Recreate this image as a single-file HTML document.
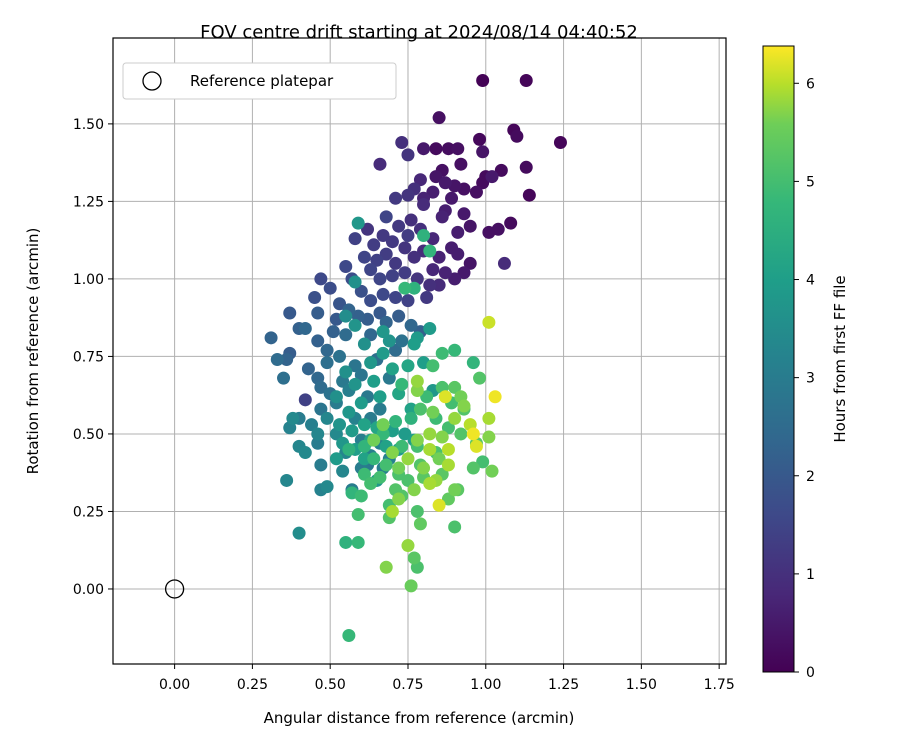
<!DOCTYPE html>
<html><head><meta charset="utf-8"><style>
html,body{margin:0;padding:0;background:#fff}
svg text{font-family:"DejaVu Sans","Liberation Sans",sans-serif;fill:#000}
</style></head><body>
<svg id="chart" width="900" height="750" xmlns="http://www.w3.org/2000/svg">
<defs><linearGradient id="vir" x1="0" y1="1" x2="0" y2="0">
<stop offset="0" stop-color="#440154"/><stop offset="0.125" stop-color="#482878"/><stop offset="0.25" stop-color="#3e4989"/><stop offset="0.375" stop-color="#31688e"/><stop offset="0.5" stop-color="#26828e"/><stop offset="0.625" stop-color="#1f9e89"/><stop offset="0.75" stop-color="#35b779"/><stop offset="0.875" stop-color="#6ece58"/><stop offset="0.9375" stop-color="#b5de2b"/><stop offset="1" stop-color="#fde725"/></linearGradient></defs>
<text x="419" y="38" font-size="18" text-anchor="middle">FOV centre drift starting at 2024/08/14 04:40:52</text>
<g id="grid"></g>
<g id="pts"></g>
<rect x="113" y="38" width="613" height="626" fill="none" stroke="#000" stroke-width="1.2"/>
<g id="ticks"></g>
<text x="419" y="723" font-size="15" text-anchor="middle">Angular distance from reference (arcmin)</text>
<text transform="translate(38,351) rotate(-90)" font-size="15" text-anchor="middle">Rotation from reference (arcmin)</text>
<g>
<rect x="123" y="63" width="273" height="36" rx="3" fill="#fff" stroke="#ccc"/>
<circle cx="152" cy="81" r="9" fill="none" stroke="#000" stroke-width="1.3"/>
<text x="190" y="86" font-size="15">Reference platepar</text>
</g>
<rect x="763" y="46" width="31" height="626" fill="url(#vir)" stroke="#000" stroke-width="1"/>
<g id="cbticks"></g>
<text transform="translate(845,359) rotate(-90)" font-size="15" text-anchor="middle">Hours from first FF file</text>
</svg>
<script>
const xTicks=["0.00","0.25","0.50","0.75","1.00","1.25","1.50","1.75"];
const yTicks=["0.00","0.25","0.50","0.75","1.00","1.25","1.50"];
const cbTicks=[0,1,2,3,4,5,6];
const refPoint=[0,0];
const points=[
[0.99,1.64,0.05],[1.13,1.64,0.1],[0.85,1.52,0.3],[0.84,1.42,0.2],[0.98,1.45,0.15],[1.09,1.48,0.1],[1.10,1.46,0.2],[0.91,1.42,0.3],[0.88,1.42,0.25],[0.80,1.42,0.5],[1.24,1.44,0.1],[0.99,1.41,0.4],[1.13,1.36,0.2],[0.92,1.37,0.3],[1.00,1.33,0.2],[0.84,1.33,0.4],[0.86,1.35,0.3],[0.87,1.31,0.5],[0.90,1.30,0.4],[0.93,1.29,0.3],[0.99,1.31,0.2],[1.02,1.33,0.5],[1.05,1.35,0.2],[1.14,1.27,0.1],[0.83,1.28,0.6],[0.89,1.26,0.5],[0.97,1.28,0.3],[0.80,1.26,0.7],[0.87,1.22,0.6],[0.93,1.21,0.5],[1.08,1.18,0.2],[1.04,1.16,0.3],[0.95,1.17,0.4],[0.91,1.15,0.6],[1.01,1.15,0.3],[0.86,1.20,0.7],[0.83,1.13,0.8],[0.89,1.10,0.6],[0.95,1.05,0.4],[0.93,1.02,0.5],[0.85,1.07,0.7],[0.91,1.08,0.6],[1.06,1.05,0.9],[0.83,1.03,0.8],[0.87,1.02,0.7],[0.80,1.09,0.9],[0.90,1.00,0.6],
[0.73,1.44,1.0],[0.75,1.40,1.1],[0.66,1.37,0.9],[0.77,1.29,1.0],[0.79,1.32,0.8],[0.71,1.26,1.2],[0.75,1.27,1.1],[0.80,1.24,0.9],[0.76,1.19,1.0],[0.72,1.17,1.2],[0.68,1.20,1.5],[0.79,1.16,1.0],[0.75,1.14,1.3],[0.67,1.14,1.2],[0.62,1.16,1.1],[0.58,1.13,1.4],[0.64,1.11,1.3],[0.70,1.12,1.2],[0.74,1.10,1.1],[0.65,1.06,1.4],[0.68,1.08,1.3],[0.61,1.07,1.5],[0.71,1.05,1.2],[0.77,1.07,1.0],[0.55,1.04,1.6],[0.63,1.03,1.5],[0.70,1.01,1.4],[0.74,1.02,1.3],[0.78,1.00,1.1],[0.82,0.98,1.0],[0.57,1.00,1.7],[0.47,1.00,1.6],[0.50,0.97,1.7],[0.66,1.00,1.5],[0.85,0.98,0.9],[0.60,0.96,1.8],[0.63,0.93,1.7],[0.67,0.95,1.6],[0.71,0.94,1.5],[0.75,0.93,1.4],[0.81,0.94,1.2],[0.45,0.94,1.8],[0.53,0.92,1.9],
[0.31,0.81,2.3],[0.37,0.89,2.0],[0.40,0.84,2.2],[0.42,0.84,2.4],[0.46,0.89,2.1],[0.52,0.87,2.0],[0.56,0.90,2.3],[0.59,0.88,2.2],[0.62,0.87,2.1],[0.66,0.89,2.0],[0.68,0.86,2.3],[0.72,0.88,2.1],[0.76,0.85,2.4],[0.79,0.83,2.2],[0.51,0.83,2.2],[0.55,0.82,2.5],[0.63,0.82,2.4],[0.46,0.80,2.2],[0.49,0.77,2.4],[0.37,0.76,2.1],[0.33,0.74,2.5],[0.36,0.74,2.3],[0.43,0.71,2.3],[0.46,0.68,2.4],[0.49,0.73,2.6],[0.53,0.75,2.7],[0.58,0.72,2.8],[0.65,0.74,2.6],[0.71,0.77,2.5],[0.73,0.80,2.7],[0.35,0.68,2.6],[0.47,0.65,2.5],[0.50,0.63,2.7],[0.54,0.67,2.9],[0.60,0.69,2.8],[0.69,0.68,2.9],[0.42,0.61,1.4],[0.47,0.58,2.8],[0.52,0.60,3.0],[0.56,0.64,3.1],[0.62,0.62,2.9],[0.66,0.58,3.0],[0.40,0.55,3.0],[0.44,0.53,3.1],[0.49,0.55,3.3],[0.58,0.55,3.2],[0.63,0.55,3.0],[0.37,0.52,3.2],[0.46,0.50,3.3],[0.52,0.50,3.4],[0.60,0.48,3.1],[0.66,0.47,3.2],[0.40,0.46,3.3],[0.46,0.47,3.0],[0.55,0.44,3.3],[0.63,0.43,3.1],[0.69,0.42,3.2],[0.42,0.44,3.4],[0.47,0.40,3.0],[0.62,0.40,2.9],[0.67,0.39,3.1],[0.54,0.38,3.3],[0.57,0.32,3.0],[0.47,0.32,3.2],[0.49,0.33,3.4],[0.36,0.35,3.3],[0.38,0.55,3.4],[0.40,0.18,3.5],[0.60,0.39,3.0],
[0.59,1.18,3.8],[0.58,0.99,3.6],[0.55,0.88,3.5],[0.58,0.85,3.7],[0.67,0.83,3.8],[0.78,0.81,3.9],[0.82,0.84,3.9],[0.61,0.79,3.6],[0.63,0.73,3.8],[0.67,0.76,3.9],[0.69,0.80,3.7],[0.77,0.79,4.0],[0.55,0.70,3.6],[0.58,0.66,3.7],[0.64,0.67,4.0],[0.70,0.71,4.1],[0.75,0.72,4.2],[0.80,0.73,4.0],[0.83,0.64,3.8],[0.52,0.62,3.6],[0.56,0.57,3.8],[0.60,0.60,3.9],[0.66,0.62,4.0],[0.72,0.63,4.2],[0.76,0.58,4.1],[0.53,0.53,3.7],[0.57,0.51,3.9],[0.61,0.53,4.1],[0.65,0.52,4.2],[0.70,0.51,4.0],[0.74,0.50,3.9],[0.54,0.47,3.8],[0.58,0.45,4.0],[0.63,0.48,4.2],[0.68,0.46,4.1],[0.72,0.45,3.9],[0.77,0.48,4.0],[0.65,0.35,3.8],[0.61,0.42,4.1],[0.52,0.42,3.9],
[0.80,1.14,4.6],[0.82,1.09,4.7],[0.77,0.97,4.6],[0.74,0.97,4.8],[0.86,0.76,4.9],[0.90,0.77,4.8],[0.83,0.72,5.0],[0.96,0.73,4.7],[0.98,0.68,5.2],[0.86,0.65,5.1],[0.90,0.65,5.3],[0.81,0.62,4.9],[0.89,0.60,5.0],[0.73,0.66,4.8],[0.79,0.58,5.1],[0.93,0.58,5.2],[0.84,0.55,4.9],[0.71,0.54,4.7],[0.76,0.55,4.6],[0.88,0.52,5.0],[0.92,0.50,5.2],[0.97,0.47,5.3],[0.67,0.50,4.8],[0.73,0.46,4.9],[0.78,0.46,5.0],[0.84,0.44,5.1],[0.61,0.46,4.7],[0.64,0.42,4.8],[0.68,0.40,5.0],[0.72,0.37,5.1],[0.79,0.40,5.2],[0.86,0.37,5.3],[0.56,0.45,4.6],[0.61,0.37,4.9],[0.66,0.36,5.0],[0.71,0.32,5.2],[0.75,0.35,5.1],[0.80,0.36,5.3],[0.57,0.31,4.7],[0.60,0.30,4.9],[0.69,0.27,5.0],[0.73,0.30,5.2],[0.78,0.25,5.1],[0.88,0.29,5.4],[0.91,0.32,5.3],[0.90,0.20,5.1],[0.55,0.15,4.6],[0.59,0.15,4.8],[0.59,0.24,5.0],[0.56,-0.15,4.8],[0.77,0.10,5.3],[0.78,0.07,5.1],[0.96,0.39,5.2],[0.99,0.41,5.0],[0.69,0.23,5.2],[0.79,0.21,5.4],[0.63,0.34,5.0],
[1.01,0.86,6.1],[1.03,0.62,6.3],[0.87,0.62,6.2],[0.92,0.62,5.6],[0.78,0.64,5.7],[0.90,0.55,5.8],[0.83,0.57,5.6],[1.01,0.55,5.9],[0.95,0.53,6.0],[0.96,0.50,6.3],[0.82,0.50,5.8],[0.86,0.49,5.7],[0.88,0.45,6.0],[0.97,0.46,6.2],[1.01,0.49,5.7],[0.67,0.53,5.6],[0.78,0.48,5.7],[0.82,0.45,5.9],[0.75,0.42,5.8],[0.85,0.42,5.6],[0.80,0.39,5.7],[0.72,0.39,5.6],[0.84,0.35,5.8],[0.90,0.32,5.6],[0.77,0.32,5.7],[1.02,0.38,5.6],[0.85,0.27,6.2],[0.72,0.29,5.7],[0.70,0.25,5.9],[0.75,0.14,5.8],[0.68,0.07,5.7],[0.76,0.01,5.5],[0.82,0.34,5.9],[0.93,0.59,5.7],[0.78,0.67,5.8],[0.88,0.40,5.9],[0.64,0.48,5.6],[0.70,0.44,5.7]
];
const X0=113,X1=726,Y0=38,Y1=664;
const xMin=-0.198,xMax=1.772,yMin=-0.242,yMax=1.777,tMax=6.38;
const sx=v=>X0+(v-xMin)/(xMax-xMin)*(X1-X0);
const sy=v=>Y1-(v-yMin)/(yMax-yMin)*(Y1-Y0);
const cy=v=>672-v/tMax*626;
const stops=[[0,[68,1,84]],[0.125,[72,40,120]],[0.25,[62,73,137]],[0.375,[49,104,142]],[0.5,[38,130,142]],[0.625,[31,158,137]],[0.75,[53,183,121]],[0.875,[110,206,88]],[0.9375,[181,222,43]],[1,[253,231,37]]];
function vir(f){f=Math.max(0,Math.min(1,f));for(let i=1;i<stops.length;i++){if(f<=stops[i][0]){const a=stops[i-1],b=stops[i],u=(f-a[0])/(b[0]-a[0]);return 'rgb('+a[1].map((c,k)=>Math.round(c+(b[1][k]-c)*u)).join(',')+')';}}return 'rgb(253,231,37)';}
const NS='http://www.w3.org/2000/svg';
function mk(tag,attrs,parent){const e=document.createElementNS(NS,tag);for(const k in attrs)e.setAttribute(k,attrs[k]);parent.appendChild(e);return e;}
const grid=document.getElementById('grid'),ticks=document.getElementById('ticks'),pg=document.getElementById('pts'),cb=document.getElementById('cbticks');
xTicks.forEach(s=>{const v=parseFloat(s),x=sx(v);
 const g=mk('line',{x1:x,x2:x,y1:Y0,y2:Y1,stroke:'#b0b0b0','stroke-width':1},grid);
 const t=mk('line',{x1:x,x2:x,y1:Y1,y2:Y1+5,stroke:'#000'},ticks);
 const l=mk('text',{x:x,y:Y1+25,'font-size':14,'text-anchor':'middle'},ticks);l.textContent=s;});
yTicks.forEach(s=>{const v=parseFloat(s),y=sy(v);
 const g=mk('line',{x1:X0,x2:X1,y1:y,y2:y,stroke:'#b0b0b0','stroke-width':1},grid);
 const t=mk('line',{x1:X0-5,x2:X0,y1:y,y2:y,stroke:'#000'},ticks);
 const l=mk('text',{x:X0-9,y:y+5,'font-size':14,'text-anchor':'end'},ticks);l.textContent=s;});
points.slice().sort((a,b)=>a[2]-b[2]).forEach(p=>{const c=mk('circle',{cx:sx(p[0]),cy:sy(p[1]),r:6.5,fill:vir(p[2]/tMax)},pg);});
const rc=mk('circle',{cx:sx(refPoint[0]),cy:sy(refPoint[1]),r:9,fill:'none',stroke:'#000','stroke-width':1.3},pg);


cbTicks.forEach(v=>{const y=cy(v);
 const t=mk('line',{x1:794,x2:799,y1:y,y2:y,stroke:'#000'},cb);
 const l=mk('text',{x:806,y:y+5,'font-size':14},cb);l.textContent=v;});
</script>
</body></html>
